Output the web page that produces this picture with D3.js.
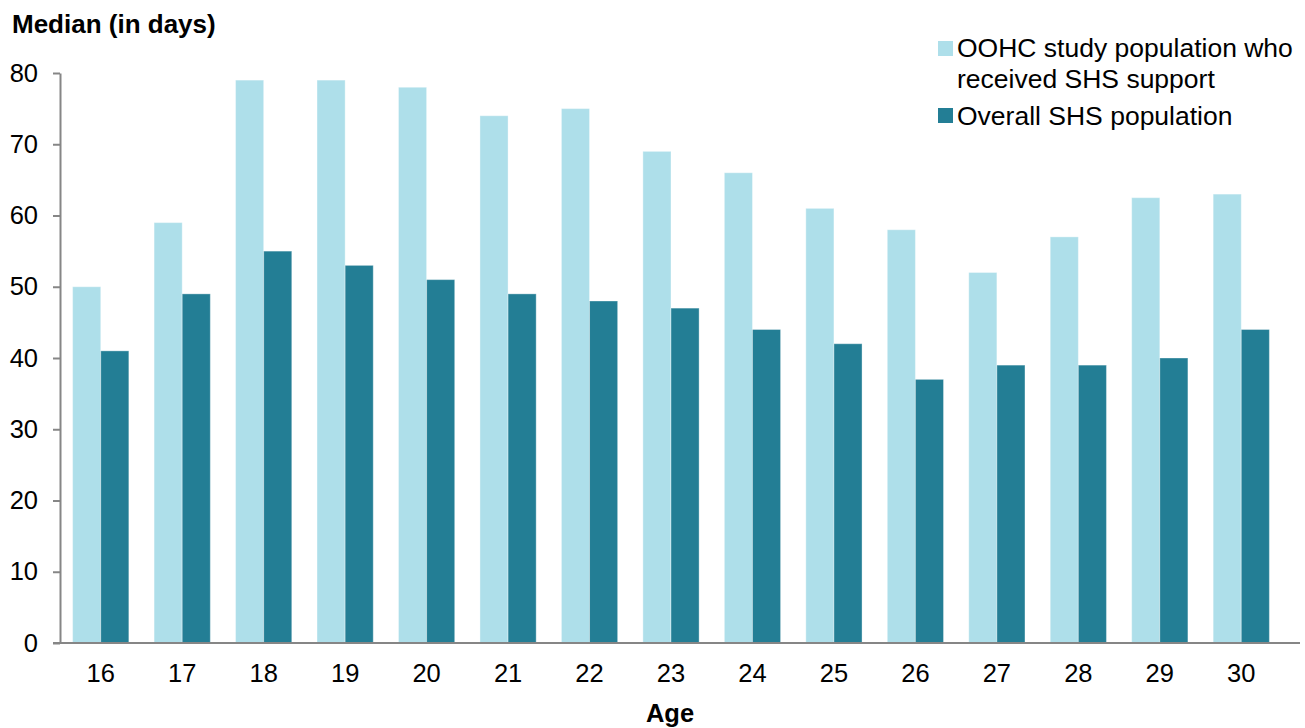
<!DOCTYPE html>
<html>
<head>
<meta charset="utf-8">
<script src="https://cdn.jsdelivr.net/npm/d3@7"></script>
<style>
  html, body { margin: 0; padding: 0; background: #fff; }
  svg { display: block; font-family: "Liberation Sans", Arial, sans-serif; }
</style>
</head>
<body>
<svg id="chart" width="1305" height="728"></svg>
<script>
// Median length of support (days) by age
const ages = ["16","17","18","19","20","21","22","23","24","25","26","27","28","29","30"];
const oohcValues = [50, 59, 79, 79, 78, 74, 75, 69, 66, 61, 58, 52, 57, 62.5, 63];
const overallValues = [41, 49, 55, 53, 51, 49, 48, 47, 44, 42, 37, 39, 39, 40, 44];
const seriesNames = ["OOHC study population who\nreceived SHS support", "Overall SHS population"];
const seriesColors = ["#aedfea", "#237e95"];
const yTicks = [0, 10, 20, 30, 40, 50, 60, 70, 80];

const FONT = "Liberation Sans, Arial, sans-serif";
const svg = d3.select("#chart");
const plot = { left: 60, right: 1282, top: 73, bottom: 643 };

const x = d3.scaleBand().domain(ages).range([plot.left, plot.right])
  .paddingInner(0.31).paddingOuter(0.155);
const xSub = d3.scaleBand().domain([0, 1]).range([0, x.bandwidth()]);
const y = d3.scaleLinear().domain([0, 80]).range([plot.bottom, plot.top]);

const series = [oohcValues, overallValues];

// Bars
series.forEach((vals, si) => {
  svg.append("g").selectAll("rect").data(ages).join("rect")
    .attr("x", d => x(d) + xSub(si))
    .attr("y", (d, i) => y(vals[i]))
    .attr("width", xSub.bandwidth())
    .attr("height", (d, i) => y(0) - y(vals[i]))
    .attr("fill", seriesColors[si])
    .attr("stroke", "#ffffff")
    .attr("stroke-opacity", 0.35)
    .attr("stroke-width", 1);
});

// Y axis
const yAxis = svg.append("g")
  .attr("transform", `translate(${plot.left},0)`)
  .call(d3.axisLeft(y).tickValues(yTicks).tickSize(7).tickPadding(15).tickSizeOuter(0));
yAxis.select(".domain").attr("stroke", "#868686").attr("stroke-width", 2);
yAxis.selectAll(".tick line").attr("stroke", "#868686").attr("stroke-width", 2);
yAxis.selectAll(".tick text").attr("font-size", 25.5).attr("fill", "#000")
  .attr("font-family", FONT);

// X axis
const xAxis = svg.append("g")
  .attr("transform", `translate(0,${plot.bottom})`)
  .call(d3.axisBottom(x).tickSize(0).tickPadding(21).tickSizeOuter(0));
xAxis.select(".domain").attr("stroke", "#868686").attr("stroke-width", 2)
  .attr("d", `M${plot.left - 7},0H${plot.right + 18}`);
xAxis.selectAll(".tick text").attr("font-size", 25.5).attr("fill", "#000")
  .attr("font-family", FONT);

// Titles
svg.append("text").attr("x", 12).attr("y", 33)
  .attr("font-size", 26).attr("font-weight", "bold").attr("fill", "#000")
  .text("Median (in days)");
svg.append("text").attr("x", 670).attr("y", 722).attr("text-anchor", "middle")
  .attr("font-size", 25.5).attr("font-weight", "bold").attr("fill", "#000")
  .text("Age");

// Legend
const legend = svg.append("g");
const legendRows = [{ y: 41, base: 57 }, { y: 108, base: 125 }];
seriesNames.forEach((name, i) => {
  const g = legend.append("g");
  g.append("rect").attr("x", 938).attr("y", legendRows[i].y).attr("width", 15).attr("height", 15)
    .attr("fill", seriesColors[i]);
  name.split("\n").forEach((ln, j) => {
    g.append("text").attr("x", 957).attr("y", legendRows[i].base + j * 31)
      .attr("font-size", 26.5).attr("fill", "#000").text(ln);
  });
});
</script>
</body>
</html>
